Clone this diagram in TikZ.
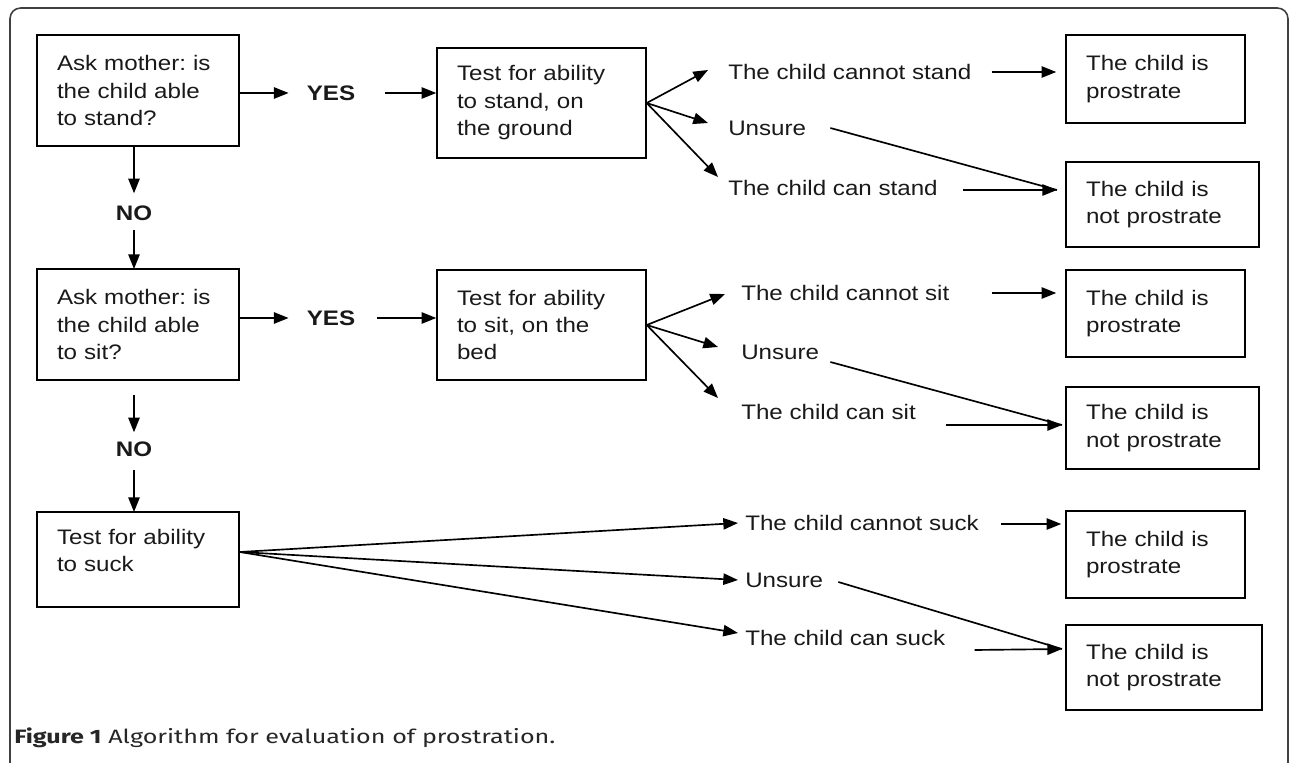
\documentclass[tikz,border=0pt]{standalone}
\usepackage{fontspec}
\setmainfont[FakeStretch=1.15]{Liberation Sans}
\newfontfamily\capfont[FakeStretch=1.3]{Fira Sans}
\usetikzlibrary{arrows.meta,calc}
\newcommand\fs{\frenchspacing\fontsize{15.75pt}{20.6pt}\selectfont}
\begin{document}
\begin{tikzpicture}[x=0.75pt,y=-0.75pt,
  box/.style={draw, line width=1.1pt, align=left, inner xsep=15pt, inner ysep=0pt, font=\fs, text=black!90},
  lbl/.style={inner sep=0pt, anchor=west, font=\fs, text=black!90},
  yesno/.style={inner sep=0pt, font=\fs\bfseries, text=black!90},
  arr/.style={line width=1.25pt, -{Triangle[length=11pt,width=8.5pt]}},
  ln/.style={line width=1.25pt}]
\useasboundingbox (0,0) rectangle (1290,763);
\draw[line width=1.2pt, draw=black!75, rounded corners=8pt] (10,800) -- (10,8) -- (1288,8) -- (1288,800);

% ---------- row 1 ----------
\node[box, text width=121.5pt, minimum height=83.25pt] (askstand) at (138,90.5) {Ask mother: is\\the child able\\to stand?};
\node[box, text width=126.75pt, minimum height=82.5pt] (teststand) at (541.5,103) {Test for ability\\to stand, on\\the ground};
\node[box, text width=104.25pt, minimum height=66pt] (p1) at (1155.5,79) {The child is\\prostrate};
\node[box, text width=114.75pt, minimum height=63.75pt] (np1) at (1162.5,204.5) {The child is\\not prostrate};
\node[yesno] (yes1) at (331,93) {YES};
\node[yesno] (no1) at (134,213) {NO};
\node[lbl] (cn1) at (728,72) {The child cannot stand};
\node[lbl] (un1) at (728,128) {Unsure};
\node[lbl] (ca1) at (728,188) {The child can stand};

\draw[arr] (askstand.east |- yes1) -- ($(yes1.west)+(-18,0)$);
\draw[arr] ($(yes1.east)+(30,0)$) -- (teststand.west |- yes1);
\coordinate (f1a) at (708,70);
\coordinate (f1b) at (708,123);
\coordinate (f1c) at (718,177);
\draw[arr] (teststand.east) -- (f1a);
\draw[arr] (teststand.east) -- (f1b);
\draw[arr] (teststand.east) -- (f1c);
\coordinate (t1p) at ($(p1.west |- cn1.east)+(-9,0)$);
\coordinate (t1n) at (1057,190);
\draw[arr] ($(cn1.east)+(20,0)$) -- (t1p);
\draw[ln] ($(un1.east)+(24,0)$) -- (t1n);
\draw[arr] ($(ca1.east)+(25,2)$) -- (t1n);
\draw[arr] (no1 |- askstand.south) -- ($(no1.north)+(0,-12)$);
\draw[arr] ($(no1.south)+(0,9)$) -- (no1 |- 0,269);

% ---------- row 2 ----------
\node[box, text width=121.5pt, minimum height=83.25pt] (asksit) at (138,324.5) {Ask mother: is\\the child able\\to sit?};
\node[box, text width=126.75pt, minimum height=82.5pt] (testsit) at (541.5,325) {Test for ability\\to sit, on the\\bed};
\node[box, text width=104.25pt, minimum height=65.25pt] (p2) at (1155.5,313.5) {The child is\\prostrate};
\node[box, text width=114.75pt, minimum height=61.5pt] (np2) at (1162.5,428) {The child is\\not prostrate};
\node[yesno] (yes2) at (331,318) {YES};
\node[yesno] (no2) at (134,449) {NO};
\node[lbl] (cn2) at (741,293) {The child cannot sit};
\node[lbl] (un2) at (741,352) {Unsure};
\node[lbl] (ca2) at (741,412) {The child can sit};

\draw[arr] (asksit.east |- yes2) -- ($(yes2.west)+(-18,0)$);
\draw[arr] ($(yes2.east)+(22,0)$) -- (testsit.west |- yes2);
\coordinate (f2a) at (725,294);
\coordinate (f2b) at (718,347);
\coordinate (f2c) at (718,398);
\draw[arr] (testsit.east) -- (f2a);
\draw[arr] (testsit.east) -- (f2b);
\draw[arr] (testsit.east) -- (f2c);
\coordinate (t2p) at ($(p2.west |- cn2.east)+(-9,0)$);
\coordinate (t2n) at (1062,425);
\draw[arr] ($(cn2.east)+(42,0)$) -- (t2p);
\draw[ln] ($(un2.east)+(11,10)$) -- (t2n);
\draw[arr] ($(ca2.east)+(30,13)$) -- (t2n);
\draw[arr] ($(no2 |- asksit.south)+(0,14)$) -- ($(no2.north)+(0,-9)$);
\draw[arr] ($(no2.south)+(0,13)$) -- (no2 |- 0,512);

% ---------- row 3 ----------
\node[box, text width=121.5pt, minimum height=71.25pt] (testsuck) at (138,559.5) {Test for ability\\to suck\\[-7pt]\mbox{}};
\node[box, text width=104.25pt, minimum height=65.25pt] (p3) at (1155.5,554.5) {The child is\\prostrate};
\node[box, text width=117pt, minimum height=63.75pt] (np3) at (1164,667.5) {The child is\\not prostrate};
\node[lbl] (cn3) at (745,523) {The child cannot suck};
\node[lbl] (un3) at (745,580) {Unsure};
\node[lbl] (ca3) at (745,638) {The child can suck};

\coordinate (f3o) at ($(testsuck.east)+(0,-7.5)$);
\draw[arr] (f3o) -- ($(cn3.west)+(-7,0)$);
\draw[arr] (f3o) -- ($(un3.west)+(-7,0)$);
\draw[arr] (f3o) -- ($(ca3.west)+(-7,-5)$);
\coordinate (t3p) at ($(p3.west |- cn3.east)+(-4,1)$);
\coordinate (t3n) at (1062,649);
\draw[arr] ($(cn3.east)+(22,1)$) -- (t3p);
\draw[ln] ($(un3.east)+(15,2)$) -- (t3n);
\draw[arr] ($(ca3.east)+(29,12)$) -- (t3n);

% ---------- caption ----------
\node[anchor=west, inner sep=0pt, font=\capfont\fontsize{14.5pt}{16pt}\selectfont, text=black!85] (cap) at (14,738) {\textbf{Figure 1} Algorithm for evaluation of prostration.};
\end{tikzpicture}
\end{document}
